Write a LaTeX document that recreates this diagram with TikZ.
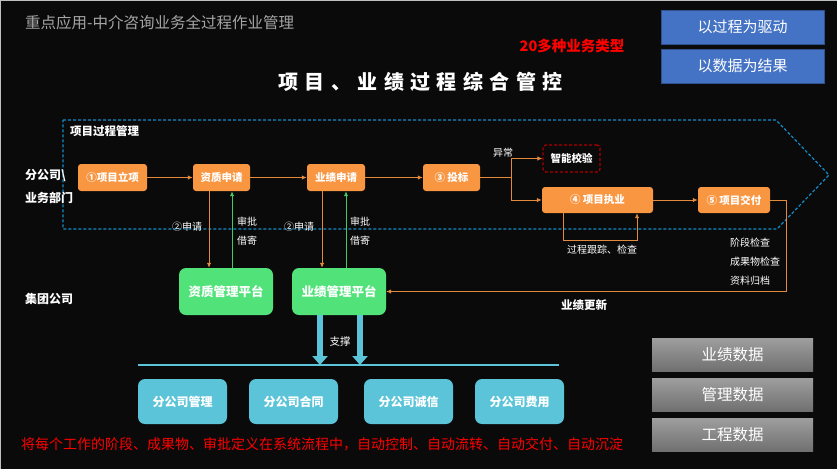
\documentclass[tikz,border=0pt]{standalone}
\usepackage{fontspec}
\setmainfont{Noto Sans CJK SC}
\usetikzlibrary{arrows.meta,shadings}
\definecolor{bg}{RGB}{10,10,10}
\definecolor{org}{RGB}{249,150,66}
\definecolor{oln}{RGB}{228,138,60}
\definecolor{grn}{RGB}{82,226,122}
\definecolor{gln}{RGB}{70,200,100}
\definecolor{cyn}{RGB}{91,196,216}
\definecolor{chev}{RGB}{20,140,200}
\definecolor{blu}{RGB}{68,114,196}
\definecolor{bluD}{RGB}{47,82,143}
\definecolor{ttl}{RGB}{165,165,165}
\definecolor{dred}{RGB}{170,0,0}
\tikzset{
  fs/.style={font=\fontsize{#1}{#1}\selectfont},
  fsb/.style={font=\bfseries\fontsize{#1}{#1}\selectfont},
  onode/.style={fill=org, rounded corners=3pt, inner sep=0pt, text=white, fsb=10.5},
  gnode/.style={fill=grn, rounded corners=7pt, inner sep=0pt, text=white, fsb=12.5, minimum width=94pt, minimum height=47pt},
  cnode/.style={fill=cyn, rounded corners=7pt, inner sep=0pt, text=white, fsb=12, minimum width=89pt, minimum height=45pt},
  bnode/.style={fill=blu, draw=bluD, line width=0.8pt, inner sep=0pt, text=white, fs=15, minimum width=163pt, minimum height=34pt},
  dnode/.style={top color=white!62!black, bottom color=white!44!black, inner sep=0pt, text=white, fs=15.5, minimum width=161pt, minimum height=33pt},
  lbl/.style={text=white, inner sep=0pt, fs=10},
  blbl/.style={text=white, inner sep=0pt, fsb=12},
  oarrow/.style={draw=oln, line width=1pt, -{Latex[length=5pt,width=4.5pt]}},
  oline/.style={draw=oln, line width=1pt},
  garrow/.style={draw=gln, line width=1pt, -{Latex[length=5pt,width=4.5pt]}},
  carrow/.style={draw=cyn, line width=6pt, -{Triangle[length=9pt,width=15pt]}},
}
\begin{document}
\begin{tikzpicture}[x=1pt,y=-1pt]
\fill[bg] (0,0) rectangle (837,469);
\useasboundingbox (0,0) rectangle (837,469);
\draw[white!75!black, line width=2pt] (0,469) -- (0,0) -- (837,0);

% titles
\node[text=ttl, fs=15.5, inner sep=0, anchor=west] (title) at (25,23) {重点应用-中介咨询业务全过程作业管理};
\node[text=red, fsb=14.5, inner sep=0] (types) at (572,46) {20多种业务类型};
\node[text=white, inner sep=0, font=\bfseries\fontsize{20}{20}\selectfont\addfontfeatures{LetterSpace=32}] (main) at (420.5,82) {项目、业绩过程综合管控};
\node[bnode] (b1) at (742.5,27) {以过程为驱动};
\node[bnode] (b2) at (742.5,66) {以数据为结果};

% chevron
\draw[chev, line width=1.2pt, dash pattern=on 3pt off 2pt] (63,120) -- (776,120) -- (829,175) -- (777,229) -- (63,229) -- cycle;
\node[blbl, fsb=11.5, anchor=west] (pm) at (70,131) {项目过程管理};

% left labels
\node[blbl, anchor=west] (l1) at (25,176) {分公司\textbackslash};
\node[blbl, anchor=west] (l2) at (25,198) {业务部门};
\node[blbl, anchor=west] (l3) at (25,299) {集团公司};

% orange nodes
\node[onode, minimum width=69pt, minimum height=27pt] (n1) at (112.5,177.5) {①项目立项};
\node[onode, minimum width=57pt, minimum height=27pt] (n2) at (221.5,177.5) {资质申请};
\node[onode, minimum width=58pt, minimum height=27pt] (n3) at (336,177.5) {业绩申请};
\node[onode, minimum width=57pt, minimum height=27pt] (n4) at (451.5,177.5) {③ 投标};
\node[onode, minimum width=111pt, minimum height=26pt] (n5) at (597.5,200) {④ 项目执业};
\node[onode, minimum width=72pt, minimum height=26pt] (n6) at (734,200) {⑤ 项目交付};
\node[draw=dred, dash pattern=on 3pt off 2pt, line width=1.3pt, rounded corners=3pt, inner sep=0pt, minimum width=57pt, minimum height=27pt, text=white, fsb=10.5] (chk) at (571.5,158.5) {智能校验};

% green and cyan nodes
\node[gnode] (g1) at (226,291.5) {资质管理平台};
\node[gnode] (g2) at (339,291.5) {业绩管理平台};
\node[cnode] (c1) at (182.5,401.5) {分公司管理};
\node[cnode] (c2) at (293.5,401.5) {分公司合同};
\node[cnode] (c3) at (408.5,401.5) {分公司诚信};
\node[cnode] (c4) at (519.5,401.5) {分公司费用};

% data boxes
\node[dnode] (d1) at (732.5,354.5) {业绩数据};
\node[dnode] (d2) at (732.5,394.5) {管理数据};
\node[dnode] (d3) at (732.5,434.5) {工程数据};

% main flow
\draw[oarrow] (n1) -- (n2);
\draw[oarrow] (n2) -- (n3);
\draw[oarrow] (n3) -- (n4);
\draw[oline] (n4.east) -- ++(31,0) coordinate (br);
\draw[oarrow] (br) |- (chk.west);
\draw[oarrow] (br) |- (n5.west);
\node[lbl] (yc) at (503,153) {异常};
\draw[oarrow] (n5) -- (n6);

% loop under execution
\coordinate (la) at ([xshift=-34.5pt]n5.south);
\coordinate (lb) at ([xshift=39.5pt]n5.south);
\draw[oarrow] (la) -- ++(0,27) -| (lb);
\node[lbl] (gz) at (602,250) {过程跟踪、检查};

% delivery back to platform
\draw[oarrow] (n6.east) -- ++(16,0) |- (g2.east);
\node[lbl, anchor=west] (k1) at (730,243) {阶段检查};
\node[lbl, anchor=west] (k2) at (730,262) {成果物检查};
\node[lbl, anchor=west] (k3) at (730,281) {资料归档};
\node[blbl, fsb=11.5] (gx) at (584,305) {业绩更新};

% vertical arrows
\coordinate (a2) at ([xshift=-12.5pt]n2.south);
\coordinate (u2) at ([xshift=10.5pt]n2.south);
\draw[oarrow] (a2) -- (a2 |- g1.north);
\draw[garrow] (u2 |- g1.north) -- (u2);
\coordinate (a3) at ([xshift=-14pt]n3.south);
\coordinate (u3) at ([xshift=10pt]n3.south);
\draw[oarrow] (a3) -- (a3 |- g2.north);
\draw[garrow] (u3 |- g2.north) -- (u3);
\node[lbl] (s1) at (187,227) {②申请};
\node[lbl] (p1) at (247,222) {审批};
\node[lbl] (j1) at (247,241) {借寄};
\node[lbl] (s2) at (299,227) {②申请};
\node[lbl] (p2) at (360,222) {审批};
\node[lbl] (j2) at (360,241) {借寄};

% support arrows
\coordinate (hl1) at (138,365);
\coordinate (hl2) at (559,365);
\draw[cyn, line width=1.5pt] (hl1) -- (hl2);
\coordinate (t1) at ([xshift=-19pt]g2.south);
\coordinate (t2) at ([xshift=21pt]g2.south);
\draw[carrow] (t1) -- (t1 |- hl1);
\draw[carrow] (t2) -- (t2 |- hl1);
\node[lbl, fs=10.5] (zc) at (340,342) {支撑};

% bottom text
\node[text=red, fs=14, inner sep=0, anchor=west] (note) at (21,444) {将每个工作的阶段、成果物、审批定义在系统流程中，自动控制、自动流转、自动交付、自动沉淀};
\end{tikzpicture}
\end{document}
